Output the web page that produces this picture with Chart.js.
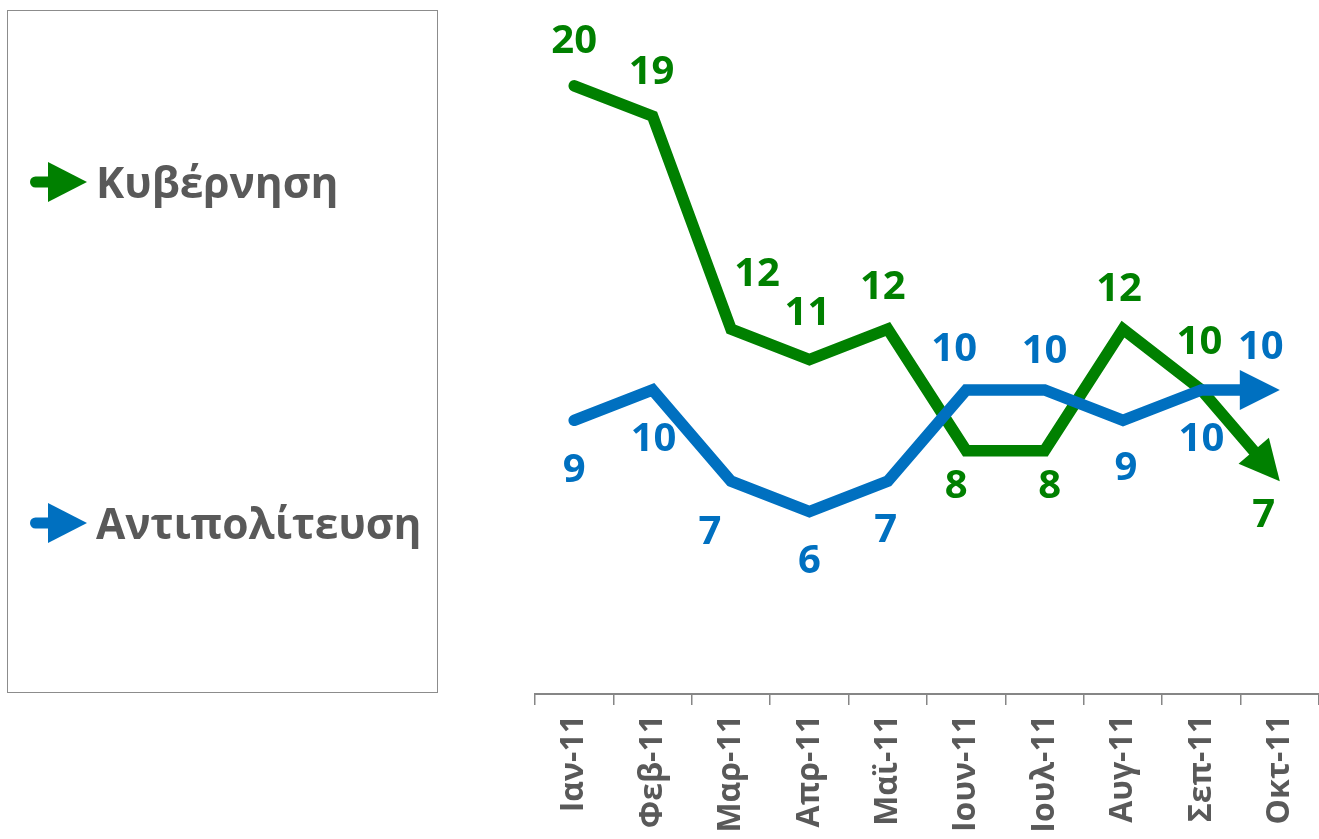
<!DOCTYPE html>
<html>
<head>
<meta charset="utf-8">
<script src="https://cdn.jsdelivr.net/npm/chart.js@4.4.0/dist/chart.umd.min.js"></script>
<style>
  html, body { margin: 0; padding: 0; background: #fff; }
  #wrap { position: relative; width: 1319px; height: 839px; }
  #legend { position: absolute; left: 7px; top: 10px; width: 431px; height: 683px;
            border: 1.5px solid #8c8c8c; box-sizing: border-box; }
  .item { position: absolute; left: 22px; height: 60px; display: flex; align-items: center;
          font-family: 'Open Sans', sans-serif; font-weight: bold; font-size: 42.5px; color: #595959; }
  .item svg { margin-right: 9px; }
</style>
</head>
<body>
<div id="wrap">
  <canvas id="chart" width="1319" height="839"></canvas>
  <div id="legend"></div>
</div>
<script>
const months = ['Ιαν-11', 'Φεβ-11', 'Μαρ-11', 'Απρ-11', 'Μαϊ-11', 'Ιουν-11', 'Ιουλ-11', 'Αυγ-11', 'Σεπ-11', 'Οκτ-11'];
const kyvernisi = [20, 19, 12, 11, 12, 8, 8, 12, 10, 7];
const antipoliteusi = [9, 10, 7, 6, 7, 10, 10, 9, 10, 10];

// label placement (pixels from the point)
const greenDx = [0, -1, 26, -2, -5, -10, 5, -4, -2, -16];
const greenDy = [-44, -44, -54, -46, -41, 36, 36, -39, -47, 34];
const blueDx = [0, 1, -21, 0, -2, -12, 0, 3, 0, -19];
const blueDy = [50, 50, 51, 50, 49, -40, -38, 48, 50, -42];

const GREEN = '#008000';
const BLUE = '#0070C0';
const GREY = '#595959';
const HEAD = 40;

function headGeom(chart, index) {
    const pts = chart.getDatasetMeta(index).data;
    if (pts.length < 2) return null;
    const a = pts[pts.length - 2], b = pts[pts.length - 1];
    const dx = b.x - a.x, dy = b.y - a.y;
    const len = Math.hypot(dx, dy);
    return { tx: b.x, ty: b.y, ux: dx / len, uy: dy / len };
}

const arrowHeads = {
    id: 'arrowHeads',
    beforeDatasetDraw(chart, args) {
        const ctx = chart.ctx;
        ctx.save();
        const h = headGeom(chart, args.index);
        if (!h) return;
        const bx = h.tx - h.ux * (HEAD - 6), by = h.ty - h.uy * (HEAD - 6);
        const px = -h.uy, py = h.ux, R = 4000;
        ctx.beginPath();
        ctx.moveTo(bx + px * R, by + py * R);
        ctx.lineTo(bx + px * R - h.ux * R, by + py * R - h.uy * R);
        ctx.lineTo(bx - px * R - h.ux * R, by - py * R - h.uy * R);
        ctx.lineTo(bx - px * R, by - py * R);
        ctx.closePath();
        ctx.clip();
    },
    afterDatasetDraw(chart, args) {
        const ctx = chart.ctx;
        ctx.restore();
        const h = headGeom(chart, args.index);
        if (!h) return;
        const bx = h.tx - h.ux * HEAD, by = h.ty - h.uy * HEAD;
        const px = -h.uy, py = h.ux;
        ctx.save();
        ctx.fillStyle = chart.data.datasets[args.index].borderColor;
        ctx.beginPath();
        ctx.moveTo(h.tx, h.ty);
        ctx.lineTo(bx + px * HEAD / 2, by + py * HEAD / 2);
        ctx.lineTo(bx - px * HEAD / 2, by - py * HEAD / 2);
        ctx.closePath();
        ctx.fill();
        ctx.restore();
    }
};

const valueLabels = {
    id: 'valueLabels',
    afterDatasetsDraw(chart) {
        const ctx = chart.ctx;
        ctx.save();
        ctx.font = 'bold 40px "Open Sans"';
        ctx.textAlign = 'center';
        ctx.textBaseline = 'middle';
        chart.data.datasets.forEach((ds, di) => {
            const meta = chart.getDatasetMeta(di);
            ctx.fillStyle = ds.borderColor;
            meta.data.forEach((pt, i) => {
                ctx.fillText(String(Math.round(ds.data[i])), pt.x + ds.labelDx[i], pt.y + ds.labelDy[i]);
            });
        });
        ctx.restore();
    }
};

const chart = new Chart(document.getElementById('chart').getContext('2d'), {
    type: 'line',
    data: {
        labels: months,
        datasets: [{
            label: 'Κυβέρνηση',
            data: kyvernisi,
            borderColor: GREEN,
            backgroundColor: GREEN,
            labelDx: greenDx,
            labelDy: greenDy,
            order: 1
        }, {
            label: 'Αντιπολίτευση',
            data: antipoliteusi,
            borderColor: BLUE,
            backgroundColor: BLUE,
            labelDx: blueDx,
            labelDy: blueDy,
            order: 0
        }]
    },
    options: {
        responsive: false,
        animation: false,
        devicePixelRatio: 1,
        layout: { padding: { left: 535, top: 25, right: 0, bottom: 0 } },
        elements: {
            point: { radius: 0, hoverRadius: 0 },
            line: { borderWidth: 11.5, tension: 0, borderCapStyle: 'round', borderJoinStyle: 'miter', fill: false }
        },
        plugins: { legend: { display: false }, tooltip: { enabled: false } },
        scales: {
            x: {
                offset: true,
                grid: { offset: true, drawOnChartArea: false, drawTicks: true, tickLength: 11, color: '#868686', lineWidth: 1.5 },
                border: { display: true, color: '#868686', width: 2 },
                ticks: {
                    minRotation: 90, maxRotation: 90, padding: 10, color: GREY,
                    font: { family: 'Open Sans', weight: 'bold', size: 32 }
                },
                afterFit(scale) {
                    scale.height = 145;
                    scale.paddingLeft = 0;
                    scale.paddingRight = 0;
                }
            },
            y: { display: false, min: 0, max: 22 }
        }
    },
    plugins: [arrowHeads, valueLabels]
});

// legend built from the chart's datasets
const legendEl = document.getElementById('legend');
const rowTops = [140.5, 481.5];
chart.data.datasets.forEach((ds, i) => {
    const row = document.createElement('div');
    row.className = 'item';
    row.style.top = rowTops[i] + 'px';
    row.innerHTML =
        '<svg width="57" height="40" viewBox="0 0 57 40">' +
        '<line x1="5.5" y1="20" x2="24" y2="20" stroke="' + ds.borderColor + '" stroke-width="11" stroke-linecap="round"/>' +
        '<polygon points="18,0 57,20 18,40" fill="' + ds.borderColor + '"/></svg>' +
        '<span>' + ds.label + '</span>';
    legendEl.appendChild(row);
});
</script>
</body>
</html>
